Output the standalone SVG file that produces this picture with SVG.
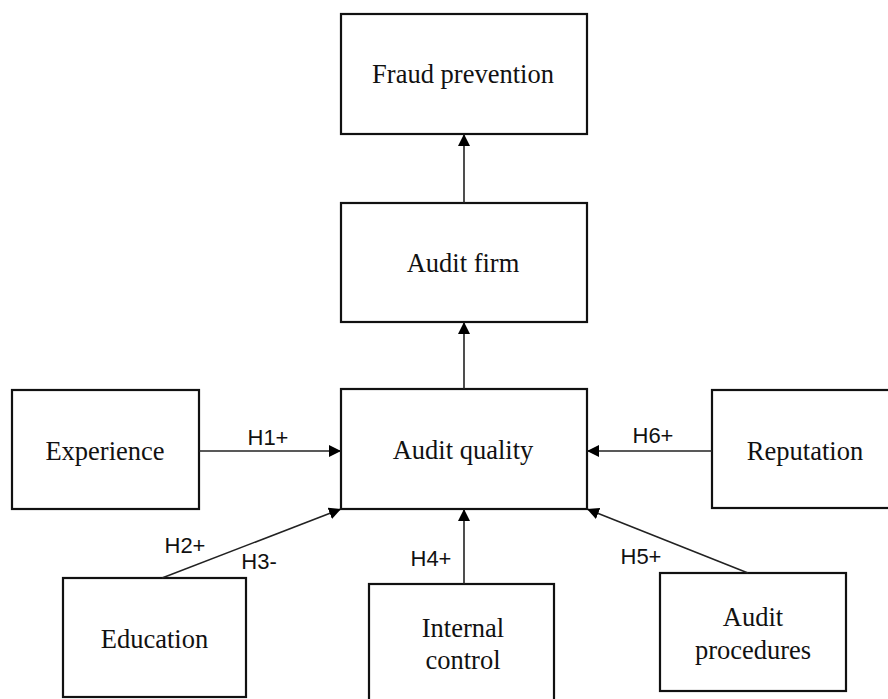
<svg xmlns="http://www.w3.org/2000/svg" width="888" height="699" viewBox="0 0 888 699">
<defs>
<marker id="arr" viewBox="0 0 12 12" refX="12" refY="6" markerWidth="12" markerHeight="12" markerUnits="userSpaceOnUse" orient="auto">
<path d="M0,0 L12,6 L0,12 Z" fill="#000"/>
</marker>
<style>
.box{fill:#fff;stroke:#111;stroke-width:2.2}
.t{font-family:"Liberation Serif","Times New Roman",serif;font-size:26.5px;fill:#111;text-anchor:middle}
.c{stroke:#222;stroke-width:1.6;fill:none;marker-end:url(#arr)}
.l{font-family:"Liberation Sans",Arial,sans-serif;font-size:22px;fill:#111;text-anchor:middle}
</style>
</defs>
<rect width="888" height="699" fill="#fff"/>
<g id="fraud-prevention"><rect class="box" x="341" y="14" width="246" height="120"/><text class="t" x="463" y="83">Fraud prevention</text></g>
<g id="audit-firm"><rect class="box" x="341" y="203" width="246" height="119"/><text class="t" x="463" y="272">Audit firm</text></g>
<g id="audit-quality"><rect class="box" x="341" y="389" width="246" height="120"/><text class="t" x="463" y="459">Audit quality</text></g>
<g id="experience"><rect class="box" x="12" y="390" width="187" height="119"/><text class="t" x="105" y="460">Experience</text></g>
<g id="reputation"><rect class="box" x="712" y="390" width="186" height="118"/><text class="t" x="805" y="460">Reputation</text></g>
<g id="education"><rect class="box" x="63" y="578" width="183" height="119"/><text class="t" x="154.5" y="648">Education</text></g>
<g id="internal-control"><rect class="box" x="369" y="584" width="185" height="122"/><text class="t" x="463" y="637">Internal</text><text class="t" x="463" y="669">control</text></g>
<g id="audit-procedures"><rect class="box" x="660" y="573" width="186" height="118"/><text class="t" x="753" y="626">Audit</text><text class="t" x="753" y="659">procedures</text></g>
<g id="connectors">
<line class="c" x1="464" y1="203" x2="464" y2="134"/>
<line class="c" x1="464" y1="389" x2="464" y2="322"/>
<line class="c" x1="199" y1="451" x2="341" y2="451"/>
<line class="c" x1="712" y1="451" x2="587" y2="451"/>
<line class="c" x1="162" y1="578" x2="341" y2="509"/>
<line class="c" x1="464" y1="584" x2="464" y2="509"/>
<line class="c" x1="748" y1="573" x2="587" y2="509"/>
<text class="l" x="268" y="445">H1+</text>
<text class="l" x="653" y="443">H6+</text>
<text class="l" x="185" y="553">H2+</text>
<text class="l" x="259" y="569">H3-</text>
<text class="l" x="431" y="566">H4+</text>
<text class="l" x="641" y="564">H5+</text>
</g>
</svg>
